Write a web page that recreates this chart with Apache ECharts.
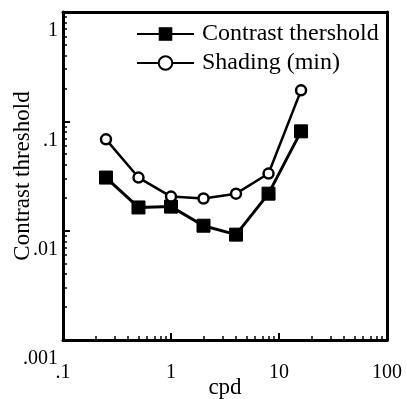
<!DOCTYPE html>
<html>
<head>
<meta charset="utf-8">
<script src="https://cdn.jsdelivr.net/npm/echarts@6/dist/echarts.min.js"></script>
<style>html,body{margin:0;padding:0;background:#fff}#c{width:407px;height:399px}</style>
</head>
<body>
<div id="c"></div>
<script>
// Data
const cpd = [0.25, 0.5, 1, 2, 4, 8, 16];
const contrastThreshold = [0.0306, 0.0163, 0.0166, 0.0111, 0.0092, 0.0218, 0.081];
const shadingMin = [0.0684, 0.0306, 0.0205, 0.0197, 0.0218, 0.0333, 0.192];
const xTickLabels = {0.1: '.1', 1: '1', 10: '10', 100: '100'};
const yTickLabels = {0.001: '.001', 0.01: '.01', 0.1: '.1', 1: '1'};
const xMinor = [0.2,0.3,0.4,0.5,0.6,0.7,0.8,0.9,2,3,4,5,6,7,8,9,20,30,40,50,60,70,80,90];
const yMinor = [0.002,0.003,0.004,0.005,0.006,0.007,0.008,0.009,0.02,0.03,0.04,0.05,0.06,0.07,0.08,0.09,0.2,0.3,0.4,0.5,0.6,0.7,0.8,0.9];

const serif = '"Liberation Serif", "DejaVu Serif", serif';
function lab(map, v) {
  for (const k in map) { if (Math.abs(Math.log10(v) - Math.log10(+k)) < 1e-6) return map[k]; }
  return '';
}
const chart = echarts.init(document.getElementById('c'));
const lineStyleAxis = {color: '#000', width: 3};
chart.setOption({
  animation: false,
  backgroundColor: '#fff',
  grid: {left: 63, right: 20, top: 12, bottom: 59, containLabel: false, outerBoundsMode: 'none'},
  legend: {
    orient: 'vertical', left: 131, top: 17, itemGap: 5,
    itemWidth: 57, itemHeight: 17,
    textStyle: {fontFamily: serif, fontSize: 24, color: '#000', padding: [0, 0, 0, 3]},
    data: ['Contrast thershold', 'Shading (min)']
  },
  xAxis: [
    {type: 'log', logBase: 10, min: 0.1, max: 100, position: 'bottom',
     name: 'cpd', nameLocation: 'middle', nameGap: 36, nameMoveOverlap: false,
     nameTextStyle: {fontFamily: serif, fontSize: 23, color: '#000'},
     axisLine: {lineStyle: lineStyleAxis},
     axisTick: {inside: true, length: 7, lineStyle: {color: '#000', width: 2}},
     minorTick: {show: false}, splitLine: {show: false},
     axisLabel: {margin: 23, fontFamily: serif, fontSize: 20, color: '#000',
       formatter: v => lab(xTickLabels, v)}},
    {type: 'log', logBase: 10, min: 0.1, max: 100, position: 'bottom',
     axisLine: {show: false},
     axisTick: {inside: true, length: 4, customValues: xMinor, lineStyle: {color: '#000', width: 1.5}},
     axisLabel: {show: false}, splitLine: {show: false}},
    {type: 'log', logBase: 10, min: 0.1, max: 100, position: 'top',
     axisLine: {lineStyle: lineStyleAxis}, axisTick: {show: false},
     axisLabel: {show: false}, splitLine: {show: false}}
  ],
  yAxis: [
    {type: 'log', logBase: 10, min: 0.001, max: 1, position: 'left',
     name: 'Contrast threshold', nameLocation: 'middle', nameGap: 29, nameRotate: 90, nameMoveOverlap: false,
     nameTextStyle: {fontFamily: serif, fontSize: 23, color: '#000'},
     axisLine: {lineStyle: lineStyleAxis},
     axisTick: {inside: true, length: 7, lineStyle: {color: '#000', width: 2}},
     minorTick: {show: false}, splitLine: {show: false},
     axisLabel: {margin: 5, fontFamily: serif, fontSize: 20, color: '#000',
       verticalAlign: 'top', lineHeight: 20, padding: [9, 0, 0, 0],
       formatter: v => lab(yTickLabels, v)}},
    {type: 'log', logBase: 10, min: 0.001, max: 1, position: 'left',
     axisLine: {show: false},
     axisTick: {inside: true, length: 4, customValues: yMinor, lineStyle: {color: '#000', width: 1.5}},
     axisLabel: {show: false}, splitLine: {show: false}},
    {type: 'log', logBase: 10, min: 0.001, max: 1, position: 'right',
     axisLine: {lineStyle: lineStyleAxis}, axisTick: {show: false},
     axisLabel: {show: false}, splitLine: {show: false}}
  ],
  series: [
    {name: 'Contrast thershold', type: 'line', xAxisIndex: 0, yAxisIndex: 0,
     data: cpd.map((x, i) => [x, contrastThreshold[i]]),
     symbol: 'rect', symbolSize: 13, z: 3,
     lineStyle: {color: '#000', width: 3},
     itemStyle: {color: '#000', borderColor: '#000'}},
    {name: 'Shading (min)', type: 'line', xAxisIndex: 0, yAxisIndex: 0,
     data: cpd.map((x, i) => [x, shadingMin[i]]),
     symbol: 'circle', symbolSize: 10, showSymbol: true, z: 4,
     lineStyle: {color: '#000', width: 2.5},
     itemStyle: {color: '#fff', borderColor: '#000', borderWidth: 2.5}}
  ]
});
</script>
</body>
</html>
